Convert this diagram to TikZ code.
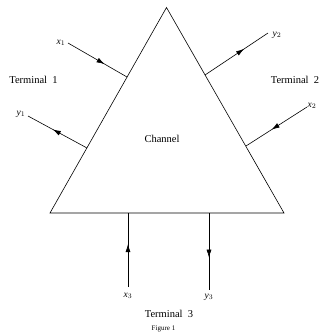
\documentclass[tikz,border=0pt]{standalone}
\usepackage{fontspec}
\setmainfont{Liberation Serif}
\usetikzlibrary{arrows.meta,decorations.markings}
\tikzset{
  edge/.style={line width=0.6pt},
  midarrow/.style={line width=0.6pt, postaction={decorate},
    decoration={markings, mark=at position #1 with {\arrow{Latex[length=8pt,width=5pt]}}}},
  lbl/.style={inner sep=0pt, font=\fontsize{10.5}{12}\selectfont},
  var/.style={inner sep=0pt, font=\fontsize{9.5}{10}\selectfont\itshape},
  figcap/.style={inner sep=0pt, font=\fontsize{7}{8}\selectfont}
}
\begin{document}
\begin{tikzpicture}[x=1pt,y=-1pt]
\useasboundingbox (0,0) rectangle (325,333);
% triangle
\coordinate (apex) at (166.5,7.5);
\coordinate (bl) at (50,213);
\coordinate (br) at (284,213);
\draw[edge,line join=miter] (apex) -- (br) -- (bl) -- cycle;
% terminal 1
\coordinate (x1s) at (68,43);
\coordinate (x1e) at (127,77);
\coordinate (y1s) at (87,148);
\coordinate (y1e) at (28,116);
\draw[midarrow=0.62] (x1s) -- (x1e);
\draw[midarrow=0.58] (y1s) -- (y1e);
\node[var] (x1) at (61,43) {x$_1$};
\node[var] (y1) at (21,114) {y$_1$};
\node[lbl] (t1) at (33.5,80) {Terminal\ \ 1};
% terminal 2
\coordinate (y2s) at (205,75);
\coordinate (y2e) at (268,33);
\coordinate (x2s) at (307,107);
\coordinate (x2e) at (246,146);
\draw[midarrow=0.62] (y2s) -- (y2e);
\draw[midarrow=0.58] (x2s) -- (x2e);
\node[var] (y2) at (277,35) {y$_2$};
\node[var] (x2) at (312,106) {x$_2$};
\node[lbl] (t2) at (295,80) {Terminal\ \ 2};
% channel
\node[lbl] (ch) at (162,139) {Channel};
% terminal 3
\coordinate (x3s) at (128,287);
\coordinate (x3e) at (128,213);
\coordinate (y3s) at (209,213);
\coordinate (y3e) at (209,290);
\draw[midarrow=0.58] (x3s) -- (x3e);
\draw[midarrow=0.58] (y3s) -- (y3e);
\node[var] (x3) at (128,296) {x$_3$};
\node[var] (y3) at (209,297) {y$_3$};
\node[lbl] (t3) at (169,314) {Terminal\ \ 3};
\node[figcap] (fig) at (163.5,329) {Figure 1};
\end{tikzpicture}
\end{document}
